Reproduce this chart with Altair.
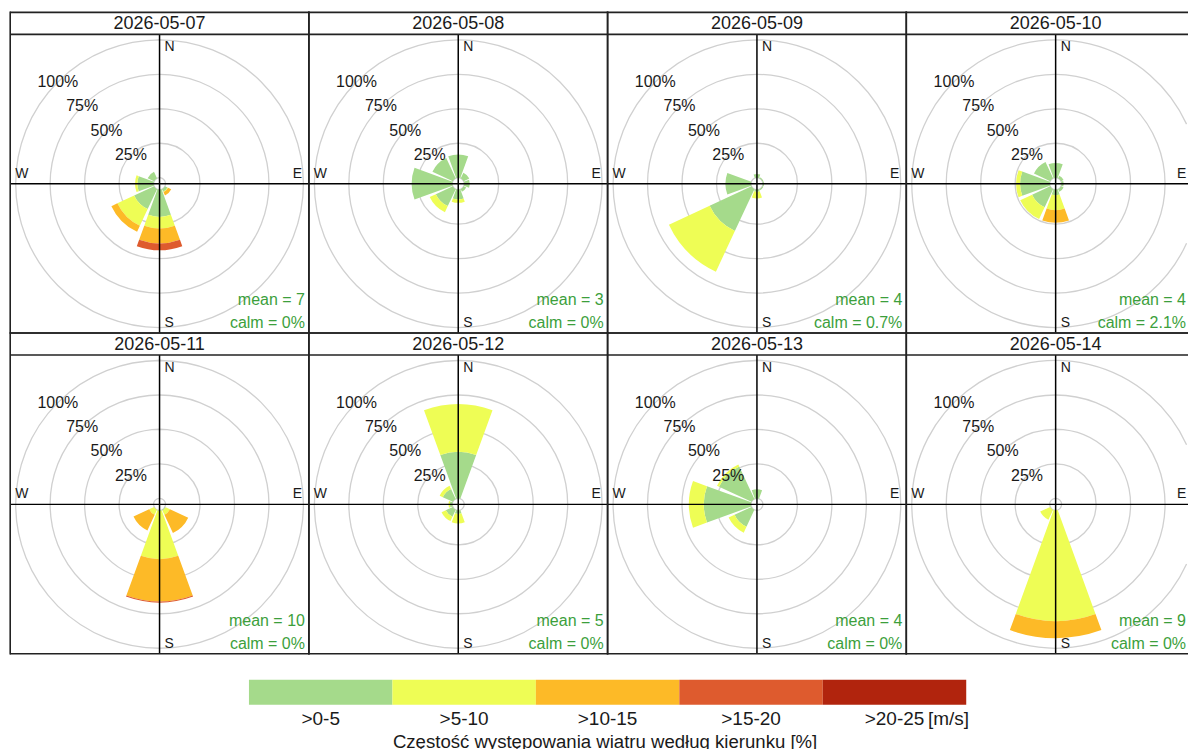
import math
import altair as alt
import pandas as pd

# ---------------- data ----------------
DATES = ["2026-05-07", "2026-05-08", "2026-05-09", "2026-05-10",
         "2026-05-11", "2026-05-12", "2026-05-13", "2026-05-14"]
DIRECTIONS = [0, 45, 90, 135, 180, 225, 270, 315]   # N, NE, E, SE, S, SW, W, NW
BINS = [">0-5", ">5-10", ">10-15", ">15-20", ">20-25"]
COLORS = ["#A5DA8B", "#EEFD55", "#FDBA27", "#DE5B2E", "#B1240D"]
UNIT_LABEL = "[m/s]"
LEGEND_TITLE = "Częstość występowania wiatru według kierunku [%]"

RINGS = [25, 50, 75, 100]
RING_LABELS = ["25%", "50%", "75%", "100%"]
COMPASS = ["N", "E", "S", "W"]

MEANS = [7, 3, 4, 4, 10, 5, 4, 9]
CALMS = ["0%", "0%", "0.7%", "2.1%", "0%", "0%", "0%", "0%"]

# frequency [%] per direction (N, NE, E, SE, S, SW, W, NW) and speed bin
FREQ_0507 = [[0, 0, 0, 0, 0], [0, 0, 0, 0, 0], [0, 0, 0, 0, 0],
             [2.0, 0.5, 2.5, 0, 0], [19.7, 8.4, 10.9, 4.9, 0],
             [16.0, 13.4, 4.8, 0, 0], [11.7, 1.7, 0, 0, 0], [5.2, 0, 0, 0, 0]]
FREQ_0508 = [[16.8, 0, 0, 0, 0], [4.5, 0, 0, 0, 0], [4.0, 0, 0, 0, 0],
             [2.0, 0, 0, 0, 0], [7.1, 2.4, 0, 0, 0],
             [13.6, 4.9, 0, 0, 0], [29.4, 0, 0, 0, 0], [16.3, 0, 0, 0, 0]]
FREQ_0509 = [[2.7, 0, 0, 0, 0], [0.8, 0, 0, 0, 0], [0.8, 0, 0, 0, 0],
             [0.8, 0, 0, 0, 0], [1.5, 4.9, 0, 0, 0],
             [33.5, 32.6, 0, 0, 0], [18.5, 0, 0, 0, 0], [0, 0, 0, 0, 0]]
FREQ_0510 = [[10.7, 0, 0, 0, 0], [2.0, 0, 0, 0, 0], [1.5, 0, 0, 0, 0],
             [2.0, 0, 0, 0, 0], [4.0, 10.8, 9.2, 0, 0],
             [14.5, 9.5, 0, 0, 0], [21.4, 2.9, 0, 0, 0], [13.0, 0, 0, 0, 0]]
FREQ_0511 = [[0, 0, 0, 0, 0], [0, 0, 0, 0, 0], [0, 0, 0, 0, 0],
             [0.5, 3.5, 14.6, 0, 0], [0.3, 35.0, 30.7, 0.8, 0],
             [0, 4.0, 12.5, 0, 0], [0, 0, 0, 0, 0], [0, 0, 0, 0, 0]]
FREQ_0512 = [[33.7, 34.6, 0, 0, 0], [0, 0, 0, 0, 0], [0, 0, 0, 0, 0],
             [0, 0, 0, 0, 0], [2.5, 7.0, 0, 0, 0],
             [5.6, 3.4, 0, 0, 0], [1.8, 1.0, 0, 0, 0], [8.0, 2.5, 0, 0, 0]]
FREQ_0513 = [[6.6, 0, 0, 0, 0], [0, 0, 0, 0, 0], [0, 0, 0, 0, 0],
             [0, 0, 0, 0, 0], [0, 0, 0, 0, 0],
             [13.6, 4.7, 0, 0, 0], [34.2, 10.8, 0, 0, 0], [26.0, 1.6, 0, 0, 0]]
FREQ_0514 = [[0, 0, 0, 0, 0], [0, 0, 0, 0, 0], [0, 0, 0, 0, 0],
             [0, 0, 0, 0, 0], [0, 80.2, 12.5, 0, 0],
             [0, 8.0, 0, 0, 0], [0, 0, 0, 0, 0], [0, 0, 0, 0, 0]]
FREQS = [FREQ_0507, FREQ_0508, FREQ_0509, FREQ_0510,
         FREQ_0511, FREQ_0512, FREQ_0513, FREQ_0514]

# ---------------- styling / layout ----------------
FONT = "Liberation Sans"
TEXT = "#1a1a1a"
GREEN = "#3c9f3c"
RING_COLOR = "#d0d0d0"
BORDER = "#222222"
BW = 0.8                   # half thickness of panel borders
CW = 0.75                  # half thickness of the compass cross
HALF_WIDTH = 20            # drawn half-width of each 45° sector, degrees
PANEL_W = 299              # full panel width
LAST_W = 282               # last column is cut by the page edge
BODY_H = 299
STRIP_H = 22
PANEL_H = STRIP_H + BODY_H
CX = PANEL_W / 2
CY = STRIP_H + BODY_H / 2
GRID_W = 3 * PANEL_W + LAST_W
BAR_H = 25
BAR_STEP = 143.6           # pixel width of one colour-bar box
BAR_LEFT = 239             # gap between the grid's left edge and the colour bar
R_MIN, R_MAX = 6, 144      # pixel radius of 0 % and 100 %

R_SCALE = alt.Scale(type="linear", domain=[0, 100], range=[R_MIN, R_MAX])
T_SCALE = alt.Scale(type="linear", domain=[0, 360], range=[0, 6.283185307])
COLOR_SCALE = alt.Scale(domain=BINS, range=COLORS)

ONE = pd.DataFrame({"a": [0]})

# part of the outer ring that stays inside the cut last column
_room = LAST_W - CX - 0.8
_gap = math.asin(min(1.0, _room / (R_MAX + 0.7)))
OUTER_CUT = dict(theta=math.pi - _gap, theta2=2 * math.pi + _gap)
E_RADIUS_CUT = (_room - 1 - R_MIN) / (R_MAX - R_MIN) * 100


def wedge_frame(freq):
    rows = []
    for d, vals in zip(DIRECTIONS, freq):
        centre = 360 if d == 0 else d
        start = 0.0
        for b, v in zip(BINS, vals):
            if v > 0:
                rows.append(dict(t0=centre - HALF_WIDTH, t1=centre + HALF_WIDTH,
                                 r0=start, r1=start + v, bin=b))
            start += v
    return pd.DataFrame(rows)


def centre_enc():
    return dict(x=alt.value(CX), y=alt.value(CY))


def compass_layer(labels, thetas, radii, **mark):
    df = pd.DataFrame({"label": labels, "t": thetas, "v": radii})
    return alt.Chart(df).mark_text(fontSize=14, color=TEXT, **mark).encode(
        theta=alt.Theta("t:Q", scale=T_SCALE, stack=False),
        radius=alt.Radius("v:Q", scale=R_SCALE, stack=False),
        text="label:N",
        **centre_enc(),
    )


def band(x0, x1, y0, y1, color=BORDER):
    """thin filled rectangle used for borders and the compass cross"""
    return alt.Chart(ONE).mark_rect(color=color).encode(
        x=alt.value(x0), x2=alt.value(x1), y=alt.value(y0), y2=alt.value(y1))


def ring_layer(values, **mark):
    return alt.Chart(pd.DataFrame({"v": values})).mark_arc(
        filled=False, color=RING_COLOR, strokeWidth=1.3, **mark
    ).encode(radius=alt.Radius("v:Q", scale=R_SCALE, stack=False),
             radius2="v:Q", **centre_enc())


def panel(i):
    last = (i % 4) == 3
    w = LAST_W if last else PANEL_W

    if last:
        rings = [ring_layer([0] + RINGS[:-1], theta=0, theta2=6.2832),
                 ring_layer(RINGS[-1:], **OUTER_CUT)]
    else:
        rings = [ring_layer([0] + RINGS, theta=0, theta2=6.2832)]

    wedges = alt.Chart(wedge_frame(FREQS[i])).mark_arc().encode(
        theta=alt.Theta("t0:Q", scale=T_SCALE, stack=False),
        theta2="t1:Q",
        radius=alt.Radius("r1:Q", scale=R_SCALE, stack=False),
        radius2="r0:Q",
        color=alt.Color("bin:N", scale=COLOR_SCALE),
        **centre_enc(),
    )

    cross_v = band(CX - CW, CX + CW, STRIP_H, PANEL_H, color="black")
    cross_h = band(0, w, CY - CW, CY + CW, color="black")

    ring_labels = alt.Chart(
        pd.DataFrame({"v": RINGS, "label": RING_LABELS, "t": [315] * 4})
    ).mark_text(fontSize=16, color=TEXT, baseline="middle").encode(
        theta=alt.Theta("t:Q", scale=T_SCALE, stack=False),
        radius=alt.Radius("v:Q", scale=R_SCALE, stack=False),
        text="label:N",
        **centre_enc(),
    )

    ns = compass_layer([COMPASS[0], COMPASS[2]], [0, 180], [94.9, 96.9],
                       align="left", baseline="middle", dx=5)
    e = compass_layer([COMPASS[1]], [90], [E_RADIUS_CUT if last else 99.0],
                      align="right", baseline="middle", dy=-10)
    w_lab = compass_layer([COMPASS[3]], [270], [100.4],
                          align="left", baseline="middle", dy=-10)

    text_right = (w - 2) if last else (PANEL_W - 4)
    mean_t = alt.Chart(pd.DataFrame({"label": [f"mean = {MEANS[i]}"]})).mark_text(
        fontSize=16, color=GREEN, align="right", baseline="middle"
    ).encode(x=alt.value(text_right), y=alt.value(STRIP_H + BODY_H - 33),
             text="label:N")
    calm_t = alt.Chart(pd.DataFrame({"label": [f"calm = {CALMS[i]}"]})).mark_text(
        fontSize=16, color=GREEN, align="right", baseline="middle"
    ).encode(x=alt.value(text_right), y=alt.value(STRIP_H + BODY_H - 10),
             text="label:N")

    date_t = alt.Chart(pd.DataFrame({"date": [DATES[i]]})).mark_text(
        fontSize=18, color=TEXT, baseline="middle"
    ).encode(text="date:N", x=alt.value(CX), y=alt.value(STRIP_H / 2 + 0.5))

    borders = [band(0, w, -BW, BW), band(0, w, STRIP_H - BW, STRIP_H + BW),
               band(0, w, PANEL_H - BW, PANEL_H + BW),
               band(-BW, BW, -BW, PANEL_H + BW)]
    if not last:
        borders.append(band(w - BW, w + BW, -BW, PANEL_H + BW))

    return alt.layer(*rings, wedges, cross_v, cross_h, ring_labels, ns, e, w_lab,
                     mean_t, calm_t, date_t, *borders).properties(
        width=w, height=PANEL_H, view=alt.ViewBackground(strokeOpacity=0))


grid = alt.concat(*[panel(i) for i in range(8)], columns=4, spacing=0,
                  bounds="flush")

# ---------------- colour bar legend ----------------
n_bins = len(BINS)
LEG_X = alt.Scale(domain=[-BAR_LEFT / BAR_STEP,
                          (GRID_W - BAR_LEFT) / BAR_STEP])
leg_df = pd.DataFrame({
    "bin": BINS,
    "i0": list(range(n_bins)),
    "i1": [k + 1 for k in range(n_bins)],
    "im": [k + 0.5 for k in range(n_bins)],
})

leg_bar = alt.Chart(leg_df).mark_rect().encode(
    x=alt.X("i0:Q", scale=LEG_X, axis=None),
    x2="i1:Q",
    color=alt.Color("bin:N", scale=COLOR_SCALE),
)
leg_labels = alt.Chart(leg_df).mark_text(
    fontSize=19, color=TEXT, baseline="middle"
).encode(x=alt.X("im:Q", scale=LEG_X, axis=None), y=alt.value(39), text="bin:N")
leg_unit = alt.Chart(pd.DataFrame({"u": [UNIT_LABEL], "im": [n_bins - 0.5]})).mark_text(
    fontSize=19, color=TEXT, baseline="middle", dx=54
).encode(x=alt.X("im:Q", scale=LEG_X, axis=None), y=alt.value(39), text="u:N")
leg_title = alt.Chart(pd.DataFrame({"t": [LEGEND_TITLE]})).mark_text(
    fontSize=18.6, color=TEXT, baseline="middle"
).encode(x=alt.value(BAR_LEFT + n_bins * BAR_STEP / 2 - 2.5), y=alt.value(62.7),
         text="t:N")

legend = alt.layer(leg_bar, leg_labels, leg_unit, leg_title).properties(
    width=GRID_W, height=BAR_H, view=alt.ViewBackground(strokeOpacity=0)
)

chart = alt.vconcat(grid, legend, spacing=25).properties(
    padding={"left": 1.2, "top": 3, "right": 0, "bottom": 0}
).configure(font=FONT).configure_legend(disable=True)

chart.save("out.html", embed_options={"renderer": "svg", "actions": False})
